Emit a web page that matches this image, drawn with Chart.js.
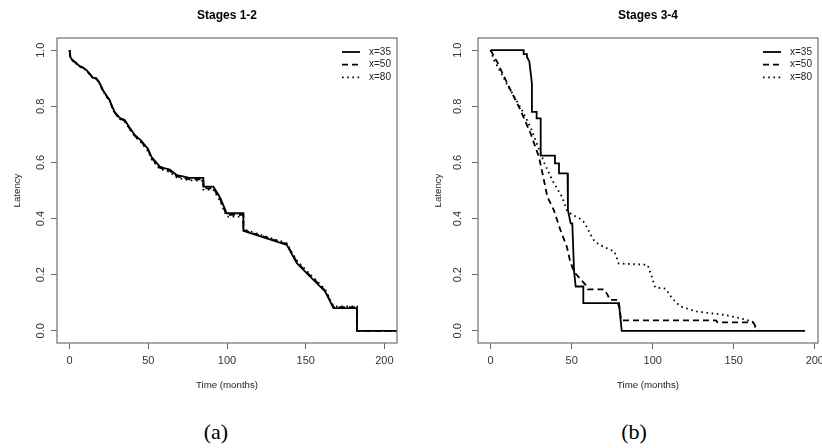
<!DOCTYPE html>
<html>
<head>
<meta charset="utf-8">
<script src="https://cdn.jsdelivr.net/npm/chart.js@4.4.0/dist/chart.umd.min.js"></script>
<style>
    html, body { margin: 0; padding: 0; background: #fff; }
    #wrap { position: relative; width: 822px; height: 448px; overflow: hidden; }
    canvas { position: absolute; top: 0; }
    #chartA { left: 0; }
    #chartB { left: 411px; }
    .caption {
        position: absolute; top: 419px; width: 60px; text-align: center;
        font-family: 'Liberation Serif', 'DejaVu Serif', serif; font-size: 22px; color: #000;
    }
</style>
</head>
<body>
<div id="wrap">
    <canvas id="chartA" width="411" height="400"></canvas>
    <canvas id="chartB" width="411" height="400"></canvas>
    <div class="caption" style="left:186px">(a)</div>
    <div class="caption" style="left:604px">(b)</div>
</div>
<script>
// Stages 1-2 (shared time grid)
const stage12Time = [0, 0.5, 2, 4, 6.4, 8, 10.6, 13, 14.8, 17, 19, 21, 23, 25.5, 27, 28.7, 31.8, 35, 38, 41.4,
    45.6, 48, 49.9, 52, 55, 57.3, 60, 63.7, 68, 72, 76, 85, 85, 91.3, 94, 96, 97.5, 99.8, 110.4, 110.4,
    138, 141, 144.4, 151.7, 157, 162.4, 165, 167.7, 182.6, 182.6, 208];
const stage12X35 = [1.0, 0.975, 0.964, 0.955, 0.943, 0.94, 0.93, 0.915, 0.902, 0.9, 0.884, 0.86, 0.842, 0.822, 0.80, 0.779, 0.759, 0.751, 0.725, 0.698,
    0.677, 0.66, 0.648, 0.62, 0.60, 0.585, 0.58, 0.575, 0.555, 0.55, 0.545, 0.545, 0.514, 0.514, 0.49, 0.47, 0.45, 0.419, 0.419, 0.356,
    0.306, 0.275, 0.241, 0.199, 0.17, 0.14, 0.11, 0.081, 0.081, 0, 0];
const stage12X50 = [1.0, 0.975, 0.963, 0.954, 0.942, 0.939, 0.929, 0.913, 0.901, 0.898, 0.882, 0.858, 0.84, 0.82, 0.798, 0.777, 0.757, 0.748, 0.722, 0.695,
    0.674, 0.656, 0.644, 0.616, 0.596, 0.581, 0.576, 0.57, 0.551, 0.545, 0.54, 0.54, 0.508, 0.508, 0.484, 0.464, 0.443, 0.413, 0.413, 0.359,
    0.309, 0.278, 0.245, 0.203, 0.174, 0.143, 0.113, 0.084, 0.084, 0, 0];
const stage12X80 = [1.0, 0.975, 0.962, 0.953, 0.941, 0.938, 0.928, 0.912, 0.9, 0.897, 0.88, 0.857, 0.838, 0.818, 0.796, 0.775, 0.755, 0.746, 0.72, 0.693,
    0.671, 0.653, 0.64, 0.612, 0.592, 0.577, 0.572, 0.566, 0.547, 0.541, 0.536, 0.535, 0.503, 0.503, 0.478, 0.458, 0.437, 0.407, 0.407, 0.362,
    0.312, 0.282, 0.25, 0.207, 0.178, 0.147, 0.117, 0.087, 0.087, 0, 0];

// Stages 3-4
const stage34TimeX35 = [0, 20.4, 20.4, 22.4, 22.4, 23.9, 25.5, 25.5, 28.4, 28.4, 30.9, 30.9, 39.7, 39.7, 42.2, 42.2,
    47.5, 47.7, 49.4, 50.4, 51.5, 52.5, 57.2, 57.2, 78.6, 79.5, 80.9, 194];
const stage34X35 = [1, 1, 0.986, 0.986, 0.976, 0.96, 0.881, 0.78, 0.78, 0.757, 0.757, 0.624, 0.624, 0.597, 0.597, 0.561,
    0.561, 0.43, 0.383, 0.383, 0.211, 0.158, 0.158, 0.0985, 0.0985, 0.08, 0, 0];
const stage34TimeX50 = [0, 4.5, 8, 12.3, 18.5, 24.7, 29.8, 32.9, 35, 39, 43, 47, 49, 51.4, 53, 58.6, 60, 70, 72, 73.6,
    79, 80.5, 139, 140, 162, 165];
const stage34X50 = [1, 0.953, 0.91, 0.858, 0.786, 0.703, 0.62, 0.537, 0.478, 0.43, 0.36, 0.3, 0.25, 0.21, 0.2, 0.164, 0.148, 0.148, 0.13, 0.11,
    0.11, 0.037, 0.037, 0.03, 0.03, 0];
const stage34TimeX80 = [0, 2, 5, 10, 15, 20, 25, 29, 33, 38, 44, 47, 50, 55, 58, 61, 64, 67.3, 76.5, 79,
    96.9, 99, 101.5, 108, 112, 117, 127, 144, 154, 161.5, 164.5];
const stage34X80 = [1, 0.965, 0.935, 0.88, 0.83, 0.78, 0.72, 0.66, 0.6, 0.537, 0.478, 0.43, 0.415, 0.40, 0.385, 0.35, 0.32, 0.306, 0.282, 0.24,
    0.235, 0.2, 0.155, 0.15, 0.116, 0.087, 0.069, 0.057, 0.045, 0.033, 0];

const seriesLabels = ['x=35', 'x=50', 'x=80'];
const xTicks = [0, 50, 100, 150, 200];
const yTicks = [0, 0.2, 0.4, 0.6, 0.8, 1.0];

const FONT = "'Liberation Sans', Arial, sans-serif";
const lineStyles = [[], [6, 4], [1.6, 3.6]];

function toPoints(times, values) {
    return times.map((t, i) => ({ x: t, y: values[i] }));
}

// box around the plot region, like R's box()
const boxPlugin = {
    id: 'rBox',
    afterDatasetsDraw(chart) {
        const a = chart.chartArea;
        const ctx = chart.ctx;
        ctx.save();
        ctx.strokeStyle = '#7a7a7a';
        ctx.lineWidth = 1.3;
        ctx.strokeRect(a.left, a.top, a.right - a.left, a.bottom - a.top);
        ctx.restore();
    }
};

// legend in the top right corner of the plot, no frame
const legendPlugin = {
    id: 'rLegend',
    afterDraw(chart) {
        const a = chart.chartArea;
        const ctx = chart.ctx;
        ctx.save();
        ctx.font = '10px ' + FONT;
        ctx.textBaseline = 'middle';
        ctx.fillStyle = '#222';
        chart.data.datasets.forEach((ds, i) => {
            const y = a.top + 14 + i * 12.7;
            ctx.strokeStyle = '#000';
            ctx.lineWidth = ds.borderWidth;
            ctx.setLineDash(ds.borderDash);
            ctx.beginPath();
            ctx.moveTo(a.right - 55, y);
            ctx.lineTo(a.right - 37, y);
            ctx.stroke();
            ctx.setLineDash([]);
            ctx.fillText(ds.label, a.right - 28, y);
        });
        ctx.restore();
    }
};

function makePanel(id, title, series, xMin, xMax, opts) {
    const ctx = document.getElementById(id);
    return new Chart(ctx, {
        type: 'line',
        data: {
            datasets: series.map((s, i) => ({
                label: seriesLabels[i],
                data: toPoints(s[0], s[1]),
                borderColor: '#000',
                borderWidth: 1.8,
                borderDash: lineStyles[i],
                pointRadius: 0,
                tension: 0,
                fill: false
            }))
        },
        options: {
            responsive: false,
            animation: false,
            layout: { padding: { left: 0, right: opts.rightPad, top: 0, bottom: 0 } },
            plugins: {
                legend: { display: false },
                tooltip: { enabled: false },
                title: {
                    display: true,
                    text: title,
                    fullSize: false,
                    color: '#000',
                    font: { size: 12, weight: 'bold', family: FONT },
                    padding: { top: 8, bottom: 15.6 }
                }
            },
            scales: {
                x: {
                    type: 'linear',
                    min: xMin,
                    max: xMax,
                    afterBuildTicks: (scale) => { scale.ticks = xTicks.map(v => ({ value: v })); },
                    afterFit: (scale) => { scale.height = 57; scale.paddingLeft = 0; scale.paddingRight = 0; },
                    border: { display: false },
                    grid: { display: true, drawOnChartArea: false, drawTicks: true, tickLength: 6, color: '#666', lineWidth: 1 },
                    ticks: { color: '#333', padding: 5, maxRotation: 0, font: { size: 11, family: FONT } },
                    title: {
                        display: true,
                        text: 'Time (months)',
                        color: '#222',
                        font: { size: 9.7, family: FONT },
                        padding: { top: 0, bottom: 8.6 }
                    }
                },
                y: {
                    type: 'linear',
                    min: -0.0434,
                    max: 1.0434,
                    afterBuildTicks: (scale) => { scale.ticks = yTicks.map(v => ({ value: v })); },
                    afterFit: (scale) => { scale.width = opts.yWidth; scale.paddingTop = 0; scale.paddingBottom = 0; },
                    border: { display: false },
                    grid: { display: true, drawOnChartArea: false, drawTicks: true, tickLength: 6, color: '#666', lineWidth: 1 },
                    ticks: {
                        color: '#333',
                        padding: opts.yTickPad,
                        crossAlign: 'center',
                        minRotation: 90,
                        maxRotation: 90,
                        font: { size: 11, family: FONT },
                        callback: (v) => v.toFixed(1)
                    },
                    title: {
                        display: true,
                        text: 'Latency',
                        color: '#222',
                        font: { size: 9.7, family: FONT },
                        padding: { top: opts.yTitlePad, bottom: 0 }
                    }
                }
            }
        },
        plugins: [boxPlugin, legendPlugin]
    });
}

makePanel('chartA', 'Stages 1-2', [
    [stage12Time, stage12X35],
    [stage12Time, stage12X50],
    [stage12Time, stage12X80]
], -8, 208, { rightPad: 14, yWidth: 57, yTickPad: 2.75, yTitlePad: 11.8 });

makePanel('chartB', 'Stages 3-4', [
    [stage34TimeX35, stage34X35],
    [stage34TimeX50, stage34X50],
    [stage34TimeX80, stage34X80]
], -7.77, 201.97, { rightPad: 4, yWidth: 67, yTickPad: 6, yTitlePad: 21.8 });
</script>
</body>
</html>
